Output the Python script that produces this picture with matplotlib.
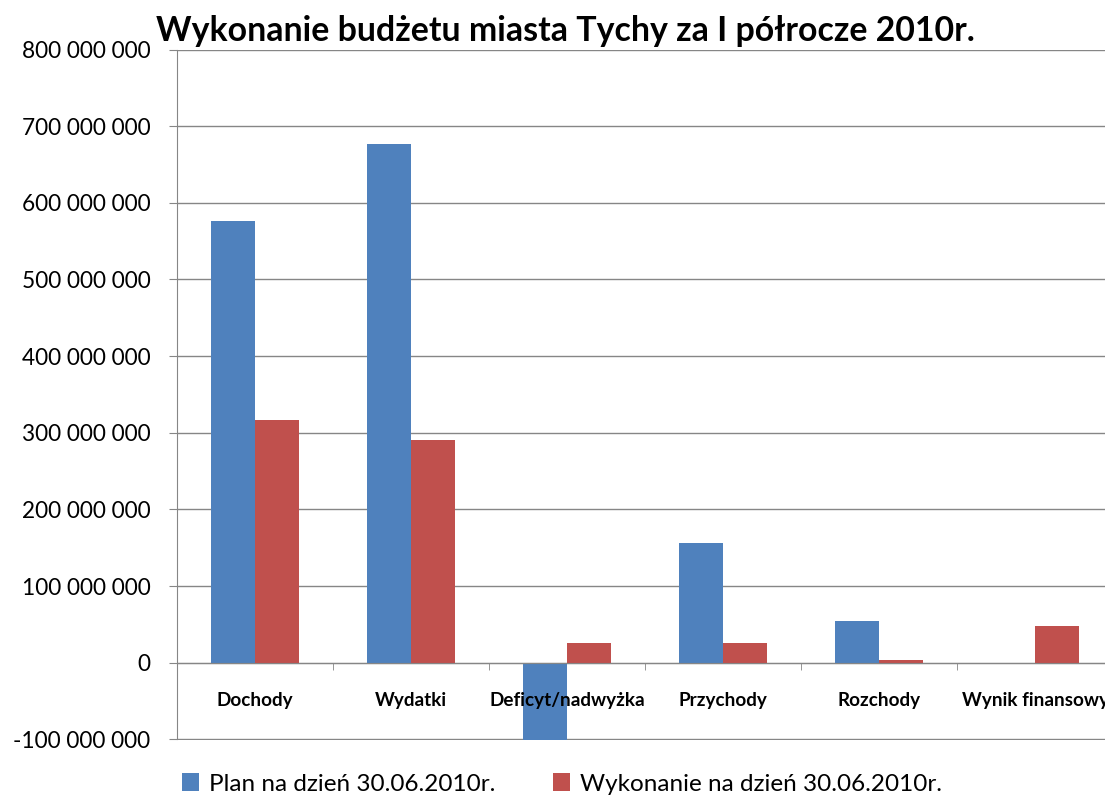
import matplotlib
matplotlib.use("Agg")
import matplotlib.pyplot as plt
from matplotlib.ticker import FuncFormatter, FixedLocator
from matplotlib.patches import Patch
import numpy as np

categories = ["Dochody", "Wydatki", "Deficyt/nadwyżka", "Przychody", "Rozchody", "Wynik finansowy"]
plan = [576e6, 677e6, -101e6, 156e6, 55e6, 0]
wykonanie = [317e6, 291e6, 26e6, 26e6, 4e6, 48e6]
series_names = ["Plan na dzień 30.06.2010r.", "Wykonanie na dzień 30.06.2010r."]
title = "Wykonanie budżetu miasta Tychy za I półrocze 2010r."
yticks = np.arange(-100e6, 800e6 + 1, 100e6)

plt.rcParams['font.family'] = ['Lato', 'DejaVu Sans']

W, H = 1105, 798
fig = plt.figure(figsize=(W/100, H/100), dpi=100)
ax = fig.add_axes([177/W, 1 - 739.5/H, (1113-177)/W, (739.5-49.5)/H])

blue = "#4F81BD"
red = "#C0504D"
grid = "#868686"

x = np.arange(len(categories))
bw = 0.285
ax.bar(x - bw/2, plan, bw, color=blue, zorder=2)
ax.bar(x + bw/2, wykonanie, bw, color=red, zorder=2)

ax.set_xlim(-0.5, len(categories) - 0.5)
ax.set_ylim(-100e6, 800e6)
ax.yaxis.set_major_locator(FixedLocator(yticks))
ax.yaxis.set_major_formatter(FuncFormatter(lambda v, p: f"{int(round(v)):,}".replace(",", " ")))
for t in yticks:
    ax.axhline(t, color=grid, linewidth=1.0, zorder=1)

for s in ['top', 'right']:
    ax.spines[s].set_visible(False)
ax.spines['left'].set_color(grid)
ax.spines['bottom'].set_color(grid)
ax.spines['bottom'].set_position(('data', 0))
ax.spines['bottom'].set_zorder(3)
ax.xaxis.set_zorder(5)
ax.yaxis.set_zorder(5)

ax.tick_params(axis='y', length=6, color=grid, pad=13, labelsize=16.3, labelcolor='black')
ax.set_xticks(x)
ax.set_xticklabels(categories, fontsize=13.6, fontweight='bold')
ax.tick_params(axis='x', which='major', length=0, pad=21)
ax.set_xticks(np.arange(0.5, len(categories) - 0.5, 1), minor=True)
ax.tick_params(axis='x', which='minor', length=5, color=grid, direction='out')

fig.text(565/W, 1 - 31/H, title, ha='center', va='center', fontsize=24.4, fontweight='bold')

handles = [Patch(facecolor=blue), Patch(facecolor=red)]
fig.legend(handles, series_names, loc='center', bbox_to_anchor=(562/W, 1 - 784/H), ncol=2,
           frameon=False, fontsize=17.5, handlelength=0.7, handleheight=0.7,
           handletextpad=0.4, columnspacing=2.4)

fig.savefig("out.png", dpi=100)
